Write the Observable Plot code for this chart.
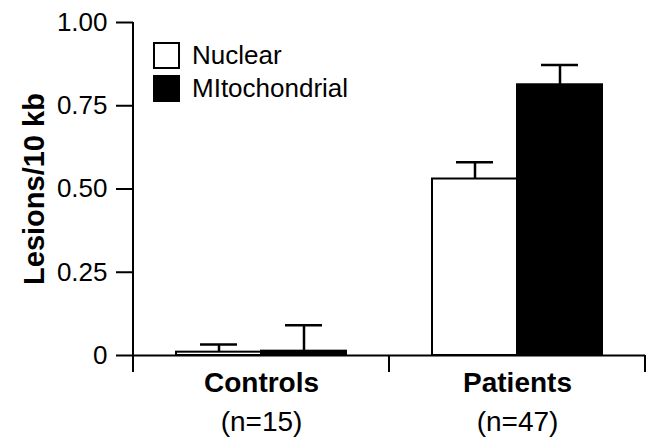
<!DOCTYPE html>
<html>
<head>
<meta charset="utf-8">
<script src="https://cdn.jsdelivr.net/npm/d3@7"></script>
<script src="https://cdn.jsdelivr.net/npm/@observablehq/plot@0.6"></script>
<style>
  html, body { margin: 0; padding: 0; background: white; }
  #wrap { position: relative; width: 649px; height: 442px; font-family: "Liberation Sans", Arial, sans-serif; }
  #legend { position: absolute; left: 153px; top: 39px; font-size: 26px; color: black; }
  .row { display: flex; align-items: center; height: 33px; }
  .sw { width: 23px; height: 23px; border: 2px solid black; margin-right: 12px; box-sizing: content-box; }
</style>
</head>
<body>
<div id="wrap"><div id="legend"></div></div>
<script>
const groups = ["Controls", "Patients"];
const groupCounts = ["(n=15)", "(n=47)"];
const series = ["Nuclear", "Mitochondrial"];
const seriesLabels = ["Nuclear", "MItochondrial"];
const seriesColors = ["white", "black"];
const nuclearMean = [0.010, 0.530];
const nuclearErr = [0.023, 0.050];
const mitoMean = [0.013, 0.813];
const mitoErr = [0.078, 0.059];
const yTicks = [0, 0.25, 0.5, 0.75, 1];
const yTickLabels = ["0", "0.25", "0.50", "0.75", "1.00"];
const yLabel = "Lesions/10 kb";

const data = groups.flatMap((g, i) => [
  {group: g, series: series[0], mean: nuclearMean[i], err: nuclearErr[i]},
  {group: g, series: series[1], mean: mitoMean[i], err: mitoErr[i]}
]);

const font = "Liberation Sans, Arial, sans-serif";

const plot = Plot.plot({
  width: 649,
  height: 442,
  marginLeft: 132,
  marginRight: 4,
  marginTop: 22,
  marginBottom: 87,
  style: {fontFamily: font, background: "white", overflow: "visible", color: "black"},
  fx: {domain: groups, padding: 0, axis: null},
  x: {domain: series, paddingInner: 0, paddingOuter: 0.5, axis: null},
  y: {domain: [0, 1], axis: null},
  color: {domain: series, range: seriesColors},
  marks: [
    Plot.ruleX(data, {fx: "group", x: "series", y1: "mean", y2: d => d.mean + d.err, stroke: "black", strokeWidth: 2.5}),
    Plot.tickY(data, {fx: "group", x: "series", y: d => d.mean + d.err, stroke: "black", strokeWidth: 2.5, insetLeft: 24, insetRight: 24}),
    Plot.barY(data, {fx: "group", x: "series", y: "mean", fill: d => d.series, stroke: "black", strokeWidth: 2}),
    Plot.ruleY([0], {stroke: "black", strokeWidth: 2}),
    Plot.axisY({ticks: yTicks, tickFormat: d => yTickLabels[yTicks.indexOf(d)], tickSize: 17, tickPadding: 9, fontSize: 26, strokeWidth: 2, anchor: "left", label: null}),
    Plot.text(groups, {fx: d => d, frameAnchor: "bottom", text: d => d, dy: 17, lineAnchor: "top", fontSize: 28, fontWeight: "bold", fill: "black"}),
    Plot.text(groups, {fx: d => d, frameAnchor: "bottom", text: d => groupCounts[groups.indexOf(d)], dy: 56, lineAnchor: "top", fontSize: 28, fill: "black"}),
    Plot.text([yLabel], {fx: () => groups[0], frameAnchor: "left", text: d => d, rotate: -90, dx: -99, textAnchor: "middle", lineAnchor: "middle", fontSize: 29, fontWeight: "bold", fill: "black"})
  ]
});

// boundary ticks and left axis line, from the plot's own scales
const fx = plot.scale("fx");
const y = plot.scale("y");
const svg = d3.select(plot.tagName === "svg" ? plot : plot.querySelector("svg"));
const y0 = y.apply(0), y1 = y.apply(1);
const bw = fx.bandwidth;
const left = fx.apply(groups[0]);
const g = svg.append("g").attr("stroke", "black").attr("stroke-width", 2);
g.append("line").attr("x1", left).attr("x2", left).attr("y1", y1).attr("y2", y0 + 17);
groups.forEach(gr => {
  const xr = fx.apply(gr) + bw;
  g.append("line").attr("x1", xr).attr("x2", xr).attr("y1", y0).attr("y2", y0 + 17);
});

document.getElementById("wrap").prepend(plot);
plot.style.position = "absolute";
plot.style.left = "0";
plot.style.top = "0";

const legend = document.getElementById("legend");
series.forEach((s, i) => {
  const row = document.createElement("div");
  row.className = "row";
  const sw = document.createElement("div");
  sw.className = "sw";
  sw.style.background = seriesColors[i];
  const t = document.createElement("span");
  t.textContent = seriesLabels[i];
  row.appendChild(sw);
  row.appendChild(t);
  legend.appendChild(row);
});
</script>
</body>
</html>
